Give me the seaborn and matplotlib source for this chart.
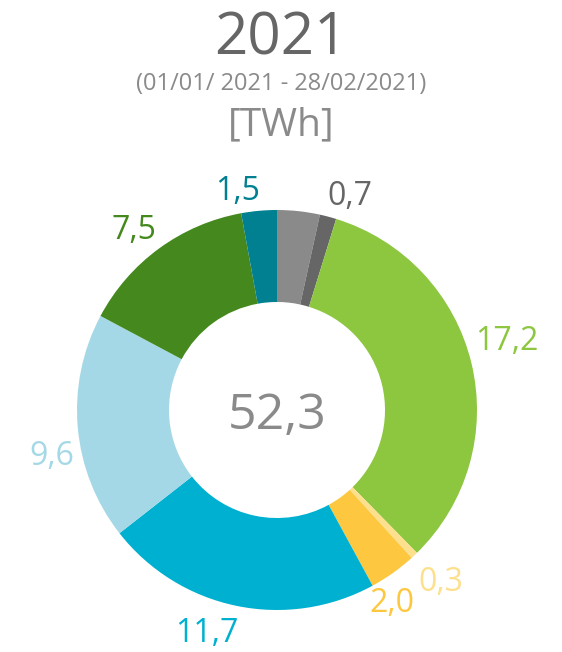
import numpy as np
import matplotlib
matplotlib.use("Agg")
import matplotlib.pyplot as plt
import seaborn as sns

# energy mix, clockwise from top
sources = ["Grigio", "Grigio scuro", "Verde", "Giallo chiaro", "Giallo",
           "Ciano", "Azzurro", "Verde scuro", "Petrolio"]
values = [1.8, 0.7, 17.2, 0.3, 2.0, 11.7, 9.6, 7.5, 1.5]
labels = ["", "0,7", "17,2", "0,3", "2,0", "11,7", "9,6", "7,5", "1,5"]
colors = ["#8a8a8a", "#666666", "#8dc63f", "#fde08e", "#fdc83f",
          "#00b0d0", "#a5d8e6", "#45891e", "#008090"]
total_label = "52,3"

# label placement tweaks (radius in units of the outer radius, angle shift in degrees)
label_r = [1.15, 1.145, 1.207, 1.174, 1.11, 1.154, 1.144, 1.165, 1.128]
label_shift = [0, -3.8, 4.0, 0.9, -4.2, -5.9, 5.6, 1.8, 5.0]

sns.set_theme(style="white")
plt.rcParams['font.family'] = ['Open Sans', 'DejaVu Sans']

fig = plt.figure(figsize=(5.62, 6.52), dpi=100)
ax = fig.add_axes([(277 - 200) / 562, (652 - 410 - 200) / 652, 400 / 562, 400 / 652])

wedges, _ = ax.pie(values, colors=sns.color_palette(colors), startangle=90,
                   counterclock=False, radius=1.0,
                   wedgeprops=dict(width=0.46, edgecolor="white", linewidth=0))
ax.set_xlim(-1, 1)
ax.set_ylim(-1, 1)
ax.axis("off")

for w, lab, c, r, sh in zip(wedges, labels, colors, label_r, label_shift):
    if not lab:
        continue
    ang = np.deg2rad((w.theta1 + w.theta2) / 2 + sh)
    ax.text(r * np.cos(ang), r * np.sin(ang), lab, color=c, fontsize=23,
            ha="center", va="center_baseline", clip_on=False)

ax.text(0, 0, total_label, color="#8a8a8a", fontsize=36, ha="center", va="center_baseline")

fig.text(0.5, 1 - 32 / 652, "2021", color="#666666", fontsize=42, ha="center",
         va="center_baseline")
fig.text(0.5, 1 - 84 / 652, "(01/01/ 2021 - 28/02/2021)", color="#8a8a8a", fontsize=17,
         ha="center", va="center")
fig.text(0.5, 1 - 125 / 652, "[TWh]", color="#8a8a8a", fontsize=28, ha="center", va="center")

fig.savefig("out.png", dpi=100)
